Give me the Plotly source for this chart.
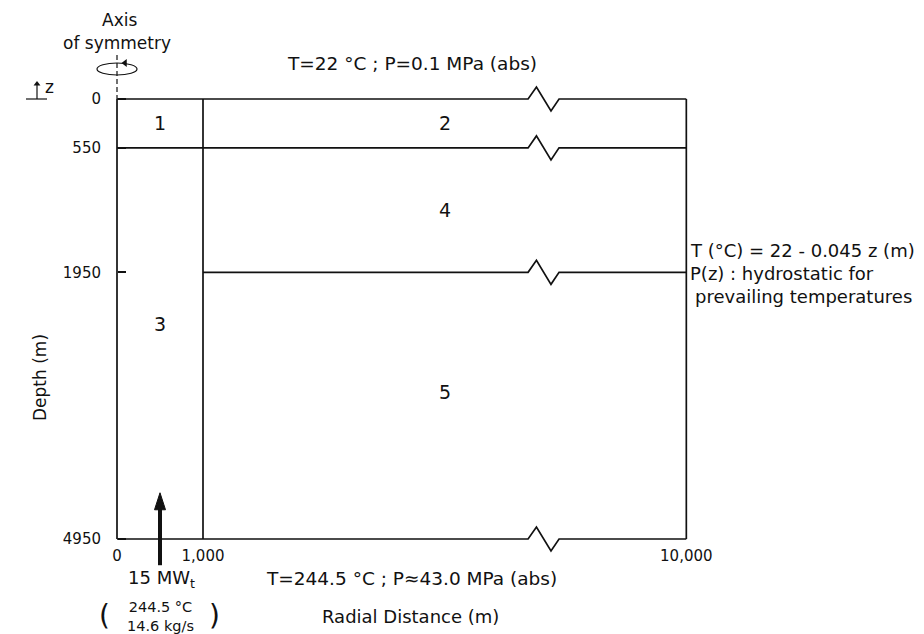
import plotly.graph_objects as go

# ---------------------------------------------------------------
# Model geometry (metres)
# ---------------------------------------------------------------
# horizontal boundaries: depth, radial start, radial end
h_depth = [0, 550, 1950, 4950]
h_r_from = [0, 0, 1000, 0]
h_r_to = [10000, 10000, 10000, 10000]

# vertical boundaries: radius, depth start, depth end
v_r = [0, 1000, 10000]
v_z_from = [0, 0, 0]
v_z_to = [4950, 4950, 4950]

# axis ticks
depth_ticks = [0, 550, 1950, 4950]
radial_ticks = [0, 1000, 10000]
radial_tick_text = ["0", "1,000", "10,000"]

# numbered sub-regions of the model
region_names = ["1", "2", "3", "4", "5"]
region_r0 = [0, 1000, 0, 1000, 1000]
region_r1 = [1000, 10000, 1000, 10000, 10000]
region_z0 = [0, 0, 550, 550, 1950]
region_z1 = [550, 550, 4950, 1950, 4950]

# boundary conditions
T_top, P_top = 22, 0.1          # surface (deg C, MPa abs)
T_bot, P_bot = 244.5, 43.0      # bottom (deg C, MPa abs)
dT_dz = 0.045                   # deg C per metre
Q_MW, T_src, m_src = 15, 244.5, 14.6   # heat source at base of column 3

# ---------------------------------------------------------------
# Page / scale setup
# ---------------------------------------------------------------
W, H = 924, 634
X0_PX, Z0_PX = 117, 99            # pixel location of r = 0, z = 0
X_PER_PX = 1000 / 86              # metres per pixel, radial
Z_PER_PX = 4950 / 440             # metres per pixel, depth

# the radial axis is broken between BREAK_START and BREAK_END
BREAK_START, BREAK_END, BREAK_GAP = 4780, 8520, 360
ZIG_AMP = 135


def rx(r):
    """Map radial distance onto the broken drawing axis."""
    if r <= BREAK_START:
        return r
    if r >= BREAK_END:
        return r - (BREAK_END - BREAK_START) + BREAK_GAP
    return BREAK_START + (r - BREAK_START) / (BREAK_END - BREAK_START) * BREAK_GAP


def px(xp, yp):
    """Pixel position -> axis coordinates (for text placement)."""
    return (xp - X0_PX) * X_PER_PX, (yp - Z0_PX) * Z_PER_PX


x_range = [-X0_PX * X_PER_PX, (W - X0_PX) * X_PER_PX]
y_range = [(H - Z0_PX) * Z_PER_PX, -Z0_PX * Z_PER_PX]

INK = "#111111"
FONT = "DejaVu Sans"

fig = go.Figure()

# ---------------------------------------------------------------
# Boundary lines, with zig-zag break marks
# ---------------------------------------------------------------
bx, by = [], []
for z, r0, r1 in zip(h_depth, h_r_from, h_r_to):
    xs, ys = [rx(r0)], [z]
    if r0 < BREAK_START < r1:
        g = BREAK_GAP
        xs += [BREAK_START, BREAK_START + 0.27 * g, BREAK_START + 0.74 * g, BREAK_START + g]
        ys += [z, z - ZIG_AMP, z + ZIG_AMP, z]
    xs.append(rx(r1))
    ys.append(z)
    bx += xs + [None]
    by += ys + [None]
for r, z0, z1 in zip(v_r, v_z_from, v_z_to):
    bx += [rx(r), rx(r), None]
    by += [z0, z1, None]

fig.add_trace(go.Scatter(x=bx, y=by, mode="lines",
                         line=dict(color=INK, width=1.7),
                         hoverinfo="skip"))

# dashed axis of symmetry above the model
fig.add_trace(go.Scatter(x=[0, 0], y=[px(0, 55)[1], 0], mode="lines",
                         line=dict(color=INK, width=1.2, dash="5px,3px"),
                         hoverinfo="skip"))

# rotation ellipse around the axis, with a small direction arrowhead
ex, ey0 = px(97, 63)
ex1, ey1 = px(137, 75)
fig.add_shape(type="circle", xref="x", yref="y",
              x0=ex, x1=ex1, y0=ey0, y1=ey1,
              line=dict(color=INK, width=1.2))
fig.add_trace(go.Scatter(x=[px(125, 63)[0]], y=[ey0], mode="markers",
                         marker=dict(symbol="triangle-left", size=7, color=INK),
                         hoverinfo="skip"))

# z direction indicator
zx, _ = px(37, 99)
z_tip = px(37, 84)[1]
fig.add_trace(go.Scatter(x=[px(26, 99)[0], px(47, 99)[0], None, zx, zx],
                         y=[0, 0, None, 0, z_tip], mode="lines",
                         line=dict(color=INK, width=1.2), hoverinfo="skip"))
fig.add_trace(go.Scatter(x=[zx], y=[z_tip], mode="markers",
                         marker=dict(symbol="triangle-up", size=6, color=INK),
                         hoverinfo="skip"))
fig.add_annotation(x=px(43, 87)[0], y=px(43, 87)[1], text="z", showarrow=False,
                   xanchor="left", font=dict(size=17))

# heat-source arrow at the base of column 3
src_r = rx((region_r0[2] + region_r1[2]) / 2)
tip_z = h_depth[-1] - 520
tail_z = h_depth[-1] + 295
head_len = 17 * Z_PER_PX
head_hw = 5.5 * X_PER_PX
fig.add_trace(go.Scatter(x=[src_r, src_r], y=[tail_z, tip_z + head_len * 0.8],
                         mode="lines", line=dict(color=INK, width=4),
                         hoverinfo="skip"))
fig.add_trace(go.Scatter(x=[src_r - head_hw, src_r, src_r + head_hw, src_r - head_hw],
                         y=[tip_z + head_len, tip_z, tip_z + head_len, tip_z + head_len],
                         mode="lines", fill="toself", fillcolor=INK,
                         line=dict(color=INK, width=1), hoverinfo="skip"))

# ---------------------------------------------------------------
# Region numbers
# ---------------------------------------------------------------
label_shift = {"3": -220, "5": -150}
for name, r0, r1, z0, z1 in zip(region_names, region_r0, region_r1, region_z0, region_z1):
    fig.add_annotation(x=(rx(r0) + rx(r1)) / 2,
                       y=(z0 + z1) / 2 + label_shift.get(name, 0),
                       text=name, showarrow=False, font=dict(size=19))

# ---------------------------------------------------------------
# Text labels
# ---------------------------------------------------------------
def text(xp, yp, s, size=17, anchor="center", angle=0):
    x, y = px(xp, yp)
    fig.add_annotation(x=x, y=y, text=s, showarrow=False, xanchor=anchor,
                       textangle=angle, font=dict(size=size))


text(119, 20, "Axis")
text(117, 43, "of symmetry")
text(412, 63, f"T={T_top:g} °C ; P={P_top:g} MPa (abs)", size=18.5)
text(411, 578, f"T={T_bot:g} °C ; P≈{P_bot:.1f} MPa (abs)", size=18.5)
text(410, 616, "Radial Distance (m)", size=18)
text(40, 378, "Depth (m)", angle=-90)

text(688, 250, f"T (°C) = {T_top:g} - {dT_dz:g} z (m)", size=18, anchor="left")
text(688, 273, "P(z) : hydrostatic for", size=18, anchor="left")
text(693, 296, "prevailing temperatures", size=18, anchor="left")

text(161, 579, f"{Q_MW:g} MW<sub>t</sub>", size=18)
fig.add_annotation(x=px(160, 616)[0], y=px(160, 616)[1],
                   text=f"{T_src:g} °C<br>{m_src:g} kg/s", showarrow=False,
                   font=dict(size=14.5))
text(104, 615, "(", size=28)
text(214, 615, ")", size=28)

# ---------------------------------------------------------------
# Axes
# ---------------------------------------------------------------
fig.update_layout(
    width=W, height=H,
    margin=dict(l=0, r=0, t=0, b=0),
    paper_bgcolor="white", plot_bgcolor="white",
    showlegend=False,
    font=dict(family=FONT, color=INK, size=17),
    xaxis=dict(range=x_range, showgrid=False, zeroline=False, showline=False,
               tickvals=[rx(r) for r in radial_ticks], ticktext=radial_tick_text,
               ticks="", anchor="free",
               position=1 - (Z0_PX + h_depth[-1] / Z_PER_PX) / H,
               tickfont=dict(size=15, family=FONT, color=INK),
               ticklabelstandoff=6, fixedrange=True),
    yaxis=dict(range=y_range, showgrid=False, zeroline=False, showline=False,
               tickvals=depth_ticks, ticktext=[str(d) for d in depth_ticks],
               ticks="inside", ticklen=8, tickwidth=1.5, tickcolor=INK,
               anchor="free", position=X0_PX / W,
               tickfont=dict(size=15, family=FONT, color=INK),
               ticklabelstandoff=16, fixedrange=True),
)

fig.write_html("out.html")
